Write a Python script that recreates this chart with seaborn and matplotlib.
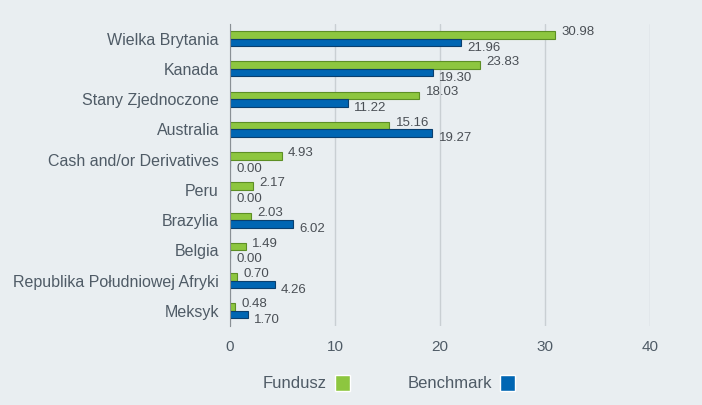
import pandas as pd
import matplotlib
matplotlib.use("Agg")
import matplotlib.pyplot as plt
import seaborn as sns
from matplotlib.patches import Patch

categories = ["Wielka Brytania", "Kanada", "Stany Zjednoczone", "Australia",
              "Cash and/or Derivatives", "Peru", "Brazylia", "Belgia",
              "Republika Południowej Afryki", "Meksyk"]
fundusz = [30.98, 23.83, 18.03, 15.16, 4.93, 2.17, 2.03, 1.49, 0.70, 0.48]
benchmark = [21.96, 19.30, 11.22, 19.27, 0.00, 0.00, 6.02, 0.00, 4.26, 1.70]
series = ["Fundusz", "Benchmark"]
x_ticks = [0, 10, 20, 30, 40]

bg = "#e9eef1"
green = "#8dc63f"
blue = "#0066b3"
text_col = "#4f5b66"

df = pd.DataFrame({
    "kraj": categories * 2,
    "seria": [series[0]] * len(categories) + [series[1]] * len(categories),
    "wartosc": fundusz + benchmark,
})

sns.set_style("white")
plt.rcParams["font.family"] = ["Liberation Sans", "DejaVu Sans"]

fig = plt.figure(figsize=(7.02, 4.05), dpi=100, facecolor=bg)
ax = fig.add_axes([230 / 702, 1 - 326 / 405, 420 / 702, 302.5 / 405])
ax.set_facecolor(bg)

sns.barplot(data=df, y="kraj", x="wartosc", hue="seria", hue_order=series,
            palette=[green, blue], orient="h", width=0.5, ax=ax,
            linewidth=0.8, saturation=1, legend=False)

edge = {0: "#5d8f25", 1: "#0a3f6e"}
for i, cont in enumerate(ax.containers):
    for bar, val in zip(cont, cont.datavalues):
        bar.set_edgecolor(edge[i])
        y = bar.get_y() + bar.get_height() / 2
        dy = -0.1 if i == 0 else 0.17
        ax.text(val + 0.6, y + dy, f"{val:.2f}", va="center", ha="left",
                fontsize=9.5, color="#4a4f55")

ax.set_xlim(0, 40)
ax.set_ylim(9.5, -0.5)
ax.set_xticks(x_ticks)
ax.set_xlabel("")
ax.set_ylabel("")
ax.grid(axis="x", color="#c9cfd3", linewidth=1)
ax.set_axisbelow(True)
for s in ["top", "right", "bottom"]:
    ax.spines[s].set_visible(False)
ax.spines["left"].set_color("#8a9095")
ax.tick_params(axis="x", length=9, color="#c9cfd3", width=1, labelsize=11,
               labelcolor=text_col, pad=1)
ax.tick_params(axis="y", length=0, labelsize=11.5, labelcolor=text_col, pad=8)

handles = [Patch(facecolor=green, label="Fundusz"),
           Patch(facecolor=blue, label="Benchmark")]
fig.legend(handles=handles, loc="center", bbox_to_anchor=(389 / 702, 1 - 383 / 405),
           ncol=2, frameon=False, markerfirst=False, handlelength=0.9,
           handleheight=1.15, handletextpad=0.45, columnspacing=3.5,
           fontsize=12, labelcolor=text_col)

fig.savefig("out.png", dpi=100, facecolor=bg)
